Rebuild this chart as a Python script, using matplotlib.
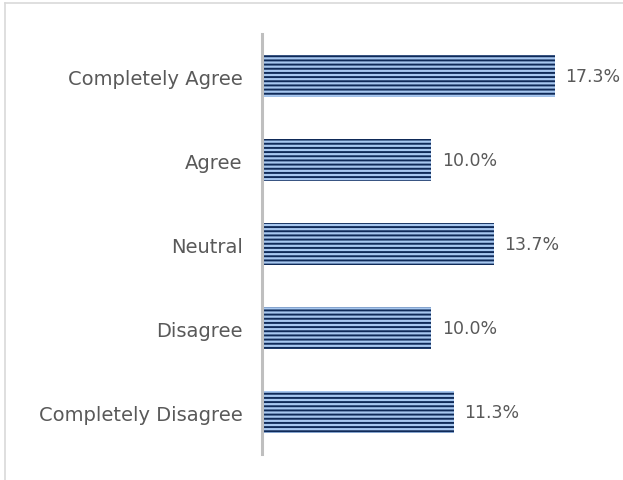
import matplotlib
matplotlib.use('Agg')
import matplotlib.pyplot as plt
from matplotlib.lines import Line2D

# 数据
categories = ['Completely Agree', 'Agree', 'Neutral', 'Disagree', 'Completely Disagree']
values = [17.3, 10.0, 13.7, 10.0, 11.3]

plt.rcParams['font.family'] = ['DejaVu Sans']
plt.rcParams['hatch.linewidth'] = 1.4

fig = plt.figure(figsize=(6.23, 4.81), dpi=100)
ax = fig.add_axes([0.4205, 0.054, 0.5442, 0.8732])

ypos = list(range(len(categories)))
bars = ax.barh(ypos, values, height=0.5, color='#a8c8f0',
               edgecolor='#0f2a58', linewidth=0, hatch='----')

ax.set_ylim(len(categories) - 0.5, -0.5)
ax.set_xlim(0, 20)
ax.set_yticks(ypos)
ax.set_yticklabels(categories, fontsize=14, color='#595959')
ax.tick_params(axis='y', length=0, pad=14)
ax.set_xticks([])

for s in ['top', 'right', 'bottom']:
    ax.spines[s].set_visible(False)
ax.spines['left'].set_color('#bfbfbf')
ax.spines['left'].set_linewidth(2.2)

for bar, v in zip(bars, values):
    ax.text(bar.get_width() + 0.6, bar.get_y() + bar.get_height() / 2,
            f'{v:.1f}%', va='center', ha='left', fontsize=12.5, color='#595959')

# 外框
fig.add_artist(Line2D([0.008, 1.0], [0.992, 0.992], color='#d9d9d9', lw=1.2,
                      transform=fig.transFigure))
fig.add_artist(Line2D([0.008, 0.008], [0.0, 0.992], color='#d9d9d9', lw=1.2,
                      transform=fig.transFigure))

fig.savefig('out.png', dpi=100)
